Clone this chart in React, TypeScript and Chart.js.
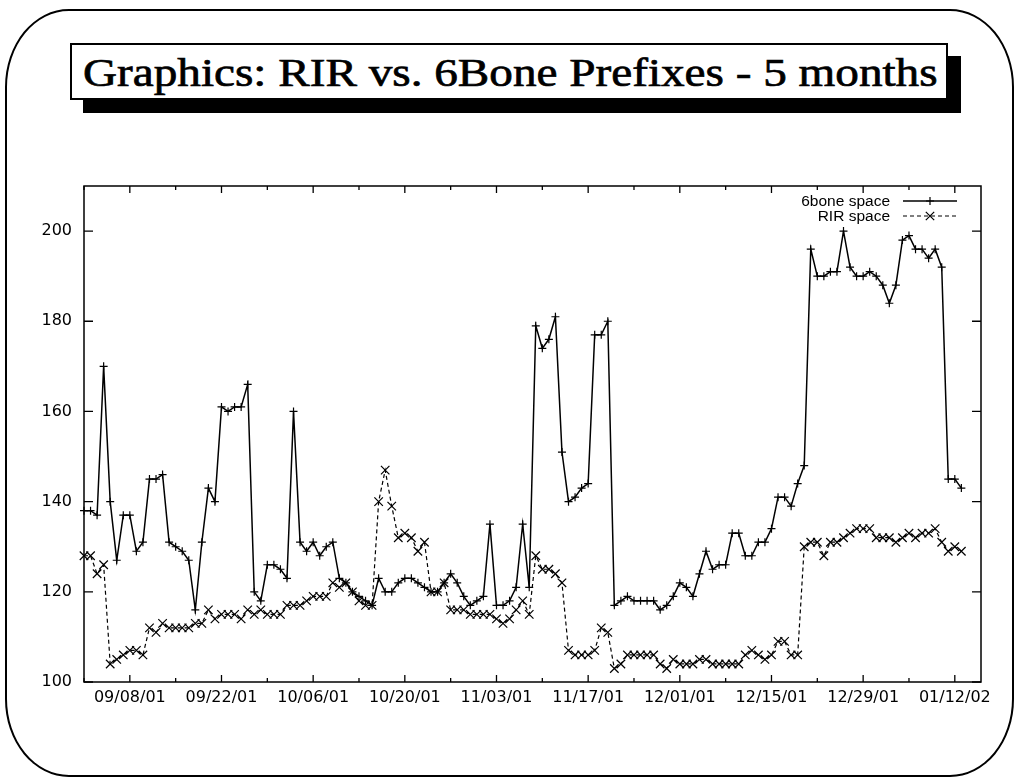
import React, { useEffect, useLayoutEffect, useRef, useState } from "react";
import { Chart, registerables } from "chart.js";

Chart.register(...registerables);

// Day index 0 = 09/01/01 (one point per day)
const START_DAY = 0;

const SIXBONE_SPACE = [
  138, 138, 137, 170, 140, 127, 137, 137, 129, 131,
  145, 145, 146, 131, 130, 129, 127, 116, 131, 143,
  140, 161, 160, 161, 161, 166, 120, 118, 126, 126,
  125, 123, 160, 131, 129, 131, 128, 130, 131, 123,
  122, 120, 119, 118, 117, 123, 120, 120, 122, 123,
  123, 122, 121, 120, 120, 122, 124, 122, 119, 117,
  118, 119, 135, 117, 117, 118, 121, 135, 121, 179,
  174, 176, 181, 151, 140, 141, 143, 144, 177, 177,
  180, 117, 118, 119, 118, 118, 118, 118, 116, 117,
  119, 122, 121, 119, 124, 129, 125, 126, 126, 133,
  133, 128, 128, 131, 131, 134, 141, 141, 139, 144,
  148, 196, 190, 190, 191, 191, 200, 192, 190, 190,
  191, 190, 188, 184, 188, 198, 199, 196, 196, 194,
  196, 192, 145, 145, 143,
];

const RIR_SPACE = [
  128, 128, 124, 126, 104, 105, 106, 107, 107, 106,
  112, 111, 113, 112, 112, 112, 112, 113, 113, 116,
  114, 115, 115, 115, 114, 116, 115, 116, 115, 115,
  115, 117, 117, 117, 118, 119, 119, 119, 122, 121,
  122, 120, 118, 117, 117, 140, 147, 139, 132, 133,
  132, 129, 131, 120, 120, 122, 116, 116, 116, 115,
  115, 115, 115, 114, 113, 114, 116, 118, 115, 128,
  125, 125, 124, 122, 107, 106, 106, 106, 107, 112,
  111, 103, 104, 106, 106, 106, 106, 106, 104, 103,
  105, 104, 104, 104, 105, 105, 104, 104, 104, 104,
  104, 106, 107, 106, 105, 106, 109, 109, 106, 106,
  130, 131, 131, 128, 131, 131, 132, 133, 134, 134,
  134, 132, 132, 132, 131, 132, 133, 132, 133, 133,
  134, 131, 129, 130, 129,
];

const SERIES_LABELS = ["6bone space", "RIR space"];

const X_TICK_LABELS = [
  "09/08/01", "09/22/01", "10/06/01", "10/20/01", "11/03/01",
  "11/17/01", "12/01/01", "12/15/01", "12/29/01", "01/12/02",
];
const FIRST_LABEL_DAY = 7;
const LABEL_EVERY = 14;
const MINOR_EVERY = 7;
const X_MIN = 0;
const X_MAX = 137;

const Y_MIN = 100;
const Y_MAX = 210;
const Y_STEP = 20;

const TITLE = "Graphics: RIR vs. 6Bone Prefixes - 5 months";
const TITLE_TEXT_WIDTH = 854;

function drawPlus(ctx: CanvasRenderingContext2D, x: number, y: number, r: number) {
  ctx.beginPath();
  ctx.moveTo(x - r, y);
  ctx.lineTo(x + r, y);
  ctx.moveTo(x, y - r);
  ctx.lineTo(x, y + r);
  ctx.stroke();
}
function drawX(ctx: CanvasRenderingContext2D, x: number, y: number, r: number) {
  ctx.beginPath();
  ctx.moveTo(x - r, y - r);
  ctx.lineTo(x + r, y + r);
  ctx.moveTo(x - r, y + r);
  ctx.lineTo(x + r, y - r);
  ctx.stroke();
}

const gnuplotFrame = {
  id: "gnuplotFrame",
  afterDatasetsDraw(chart: any) {
    const { ctx, chartArea: a, scales } = chart;
    ctx.save();
    ctx.strokeStyle = "#000";
    ctx.setLineDash([]);
    ctx.lineWidth = 1.5;
    ctx.strokeRect(a.left, a.top, a.right - a.left, a.bottom - a.top);

    ctx.lineWidth = 1.3;
    scales.x.ticks.forEach((t: any) => {
      const px = scales.x.getPixelForValue(t.value);
      const major = (t.value - FIRST_LABEL_DAY) % LABEL_EVERY === 0;
      const len = major ? 7 : 4;
      ctx.beginPath();
      ctx.moveTo(px, a.bottom);
      ctx.lineTo(px, a.bottom - len);
      ctx.moveTo(px, a.top);
      ctx.lineTo(px, a.top + len);
      ctx.stroke();
    });
    scales.y.ticks.forEach((t: any) => {
      const py = scales.y.getPixelForValue(t.value);
      ctx.beginPath();
      ctx.moveTo(a.left, py);
      ctx.lineTo(a.left + 9, py);
      ctx.moveTo(a.right, py);
      ctx.lineTo(a.right - 9, py);
      ctx.stroke();
    });

    // legend (gnuplot style: text then sample)
    ctx.font = "15.5px 'Liberation Sans', Arial, sans-serif";
    ctx.fillStyle = "#000";
    ctx.textAlign = "right";
    ctx.textBaseline = "middle";
    const textRight = a.right - 91;
    const sx0 = a.right - 78;
    const sx1 = a.right - 24;
    const rows = [a.top + 15, a.top + 30];
    chart.data.datasets.forEach((ds: any, i: number) => {
      const y = rows[i];
      ctx.fillText(ds.label, textRight, y + 1);
      ctx.lineWidth = ds.borderWidth;
      ctx.setLineDash(ds.borderDash || []);
      ctx.beginPath();
      ctx.moveTo(sx0, y);
      ctx.lineTo(sx1, y);
      ctx.stroke();
      ctx.setLineDash([]);
      ctx.lineWidth = 1.2;
      const cx = (sx0 + sx1) / 2;
      if (i === 0) drawPlus(ctx, cx, y, 4);
      else drawX(ctx, cx, y, 4.2);
    });
    ctx.restore();
  },
};

function App() {
  const canvasRef = useRef<HTMLCanvasElement | null>(null);
  const titleRef = useRef<HTMLSpanElement | null>(null);
  const [titleScale, setTitleScale] = useState(1);

  useLayoutEffect(() => {
    const el = titleRef.current;
    if (!el) return;
    const w = el.offsetWidth;
    if (w > 0) setTitleScale(TITLE_TEXT_WIDTH / w);
  }, []);

  useEffect(() => {
    const canvas = canvasRef.current;
    if (!canvas) return;
    const chart = new Chart(canvas, {
      type: "line",
      data: {
        datasets: [
          {
            label: SERIES_LABELS[0],
            data: SIXBONE_SPACE.map((y, i) => ({ x: START_DAY + i, y })),
            borderColor: "#000",
            borderWidth: 1.5,
            pointStyle: "cross",
            pointRadius: 4,
            pointBorderWidth: 1.2,
            pointBorderColor: "#000",
            pointBackgroundColor: "#000",
            tension: 0,
            fill: false,
            clip: false as any,
          },
          {
            label: SERIES_LABELS[1],
            data: RIR_SPACE.map((y, i) => ({ x: START_DAY + i, y })),
            borderColor: "#000",
            borderWidth: 1.2,
            borderDash: [4, 3],
            pointStyle: "crossRot",
            pointRadius: 6,
            pointBorderWidth: 1.2,
            pointBorderColor: "#000",
            pointBackgroundColor: "#000",
            tension: 0,
            fill: false,
            clip: false as any,
          },
        ],
      },
      options: {
        animation: false,
        responsive: false,
        maintainAspectRatio: false,
        events: [],
        layout: { padding: { left: 0, top: 186, right: 35, bottom: 0 } },
        plugins: {
          legend: { display: false },
          tooltip: { enabled: false },
          title: { display: false },
        },
        scales: {
          x: {
            type: "linear",
            min: X_MIN,
            max: X_MAX,
            grid: { display: false, drawTicks: false },
            border: { display: false },
            afterFit: (s: any) => {
              s.height = 96;
            },
            ticks: {
              stepSize: MINOR_EVERY,
              includeBounds: false,
              autoSkip: false,
              maxRotation: 0,
              padding: 6,
              color: "#000",
              font: { family: "'DejaVu Sans', sans-serif", size: 16 },
              callback: (v: any) => {
                const k = (Number(v) - FIRST_LABEL_DAY) / LABEL_EVERY;
                return Number.isInteger(k) && k >= 0 && k < X_TICK_LABELS.length
                  ? X_TICK_LABELS[k]
                  : "";
              },
            },
          },
          y: {
            type: "linear",
            min: Y_MIN,
            max: Y_MAX,
            grid: { display: false, drawTicks: false },
            border: { display: false },
            afterFit: (s: any) => {
              s.width = 84;
            },
            ticks: {
              stepSize: Y_STEP,
              includeBounds: false,
              padding: 12,
              color: "#000",
              font: { family: "'DejaVu Sans', sans-serif", size: 16 },
            },
          },
        },
      },
      plugins: [gnuplotFrame],
    });
    return () => chart.destroy();
  }, []);

  return (
    <div
      style={{
        position: "absolute",
        left: 0,
        top: 0,
        width: 1016,
        height: 778,
        overflow: "hidden",
        background: "#fff",
      }}
    >
      <div
        style={{
          position: "absolute",
          left: 5,
          top: 9,
          width: 1009,
          height: 768,
          boxSizing: "border-box",
          border: "2.5px solid #000",
          borderRadius: "64px / 78px",
        }}
      />
      <div
        style={{
          position: "absolute",
          left: 83,
          top: 56,
          width: 878,
          height: 57,
          background: "#000",
        }}
      />
      <div
        style={{
          position: "absolute",
          left: 70,
          top: 43,
          width: 878,
          height: 57,
          boxSizing: "border-box",
          border: "2px solid #000",
          background: "#fff",
          overflow: "hidden",
        }}
      >
        <span
          ref={titleRef}
          style={{
            position: "absolute",
            left: 11,
            top: 4,
            display: "inline-block",
            fontFamily: "'Liberation Serif', 'DejaVu Serif', serif",
            fontSize: 41,
            lineHeight: "46px",
            whiteSpace: "nowrap",
            color: "#000",
            WebkitTextStroke: "0.7px #000",
            transform: `scaleX(${titleScale})`,
            transformOrigin: "0 0",
          }}
        >
          {TITLE}
        </span>
      </div>
      <canvas
        ref={canvasRef}
        width={1016}
        height={778}
        style={{ position: "absolute", left: 0, top: 0, width: 1016, height: 778 }}
      />
    </div>
  );
}

export default App;
